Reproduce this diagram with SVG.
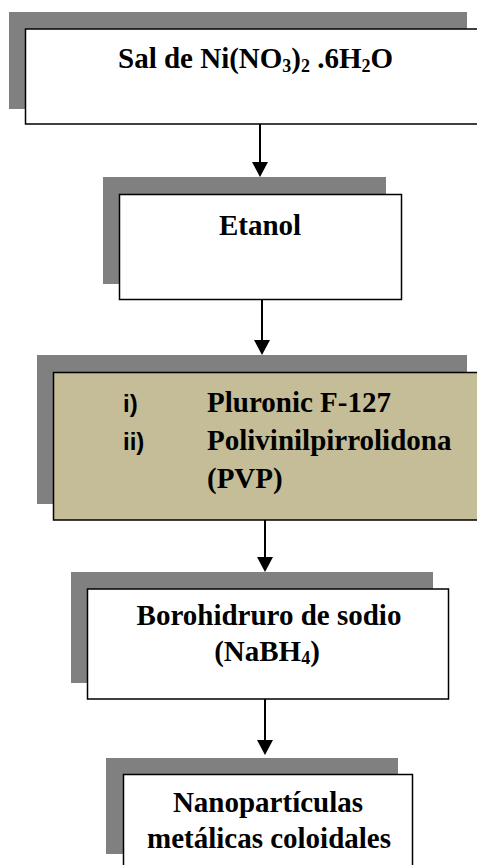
<svg xmlns="http://www.w3.org/2000/svg" width="477" height="865" viewBox="0 0 477 865">
<style>
.sh{fill:#808080;stroke:none}
.bx{fill:#ffffff;stroke:#000000;stroke-width:1.5}
.tan{fill:#c4bd97;stroke:#000000;stroke-width:1.5}
.t{font-family:'Liberation Serif','Times New Roman',serif;font-weight:700;font-size:29px;fill:#000}
.s{font-family:'Liberation Sans',Arial,sans-serif;font-weight:700;font-size:24px;fill:#000}
.sub{font-size:18px}
.ln{stroke:#000;stroke-width:2;fill:none}
.hd{fill:#000;stroke:none}
</style>
<rect width="477" height="865" fill="#ffffff"/>
<g id="connectors">
<line class="ln" x1="260" y1="124" x2="260" y2="163"/>
<polygon class="hd" points="252,162 268,162 260,177"/>
<line class="ln" x1="262" y1="300" x2="262" y2="341"/>
<polygon class="hd" points="254,340 270,340 262,355"/>
<line class="ln" x1="265" y1="520" x2="265" y2="558"/>
<polygon class="hd" points="257,557 273,557 265,572"/>
<line class="ln" x1="265" y1="699" x2="265" y2="741"/>
<polygon class="hd" points="257,740 273,740 265,755"/>
</g>
<g id="node1">
<rect class="sh" x="9" y="12" width="458" height="97"/>
<rect class="bx" x="25.5" y="29" width="470" height="95"/>
<text class="t" x="118" y="68">Sal de Ni(NO<tspan class="sub" dy="4">3</tspan><tspan dy="-4">)</tspan><tspan class="sub" dy="4">2</tspan><tspan dy="-4"> .6H</tspan><tspan class="sub" dy="4">2</tspan><tspan dy="-4">O</tspan></text>
</g>
<g id="node2">
<rect class="sh" x="103" y="177" width="283" height="107"/>
<rect class="bx" x="119.5" y="194.5" width="282" height="105"/>
<text class="t" x="260" y="235" text-anchor="middle">Etanol</text>
</g>
<g id="node3">
<rect class="sh" x="37" y="355" width="430" height="149"/>
<rect class="tan" x="53.5" y="372.5" width="440" height="147.5"/>
<text class="s" x="123" y="412">i)</text>
<text class="s" x="123" y="450">ii)</text>
<text class="t" x="207" y="412">Pluronic F-127</text>
<text class="t" x="207" y="450">Polivinilpirrolidona</text>
<text class="t" x="207" y="488">(PVP)</text>
</g>
<g id="node4">
<rect class="sh" x="71" y="572" width="362" height="111"/>
<rect class="bx" x="87.5" y="589" width="361" height="110"/>
<text class="t" x="269" y="625" text-anchor="middle">Borohidruro de sodio</text>
<text class="t" x="267" y="661" text-anchor="middle">(NaBH<tspan class="sub" dy="3">4</tspan><tspan dy="-3">)</tspan></text>
</g>
<g id="node5">
<rect class="sh" x="106" y="758" width="292" height="96"/>
<rect class="bx" x="123.5" y="774.5" width="289" height="120"/>
<text class="t" x="268" y="812" text-anchor="middle">Nanopartículas</text>
<text class="t" x="269" y="848" text-anchor="middle">metálicas coloidales</text>
</g>
</svg>
